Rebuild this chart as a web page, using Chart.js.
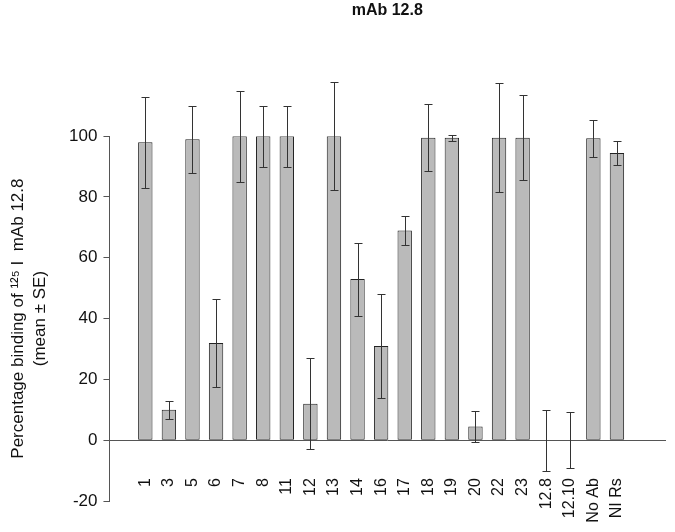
<!DOCTYPE html>
<html>
<head>
<meta charset="utf-8">
<script src="https://cdn.jsdelivr.net/npm/chart.js@4.4.1/dist/chart.umd.min.js"></script>
<style>
  html, body { margin: 0; padding: 0; background: #fff; }
  #wrap { width: 675px; height: 532px; }
</style>
</head>
<body>
<div id="wrap"><canvas id="myChart" width="675" height="532"></canvas></div>
<script>
  const categories = ["1", "3", "5", "6", "7", "8", "11", "12", "13", "14", "16",
    "17", "18", "19", "20", "22", "23", "12.8", "12.10", "No Ab", "NI Rs"];
  const means = [98, 10, 99, 32, 100, 100, 100, 12, 100, 53, 31,
    69, 99.5, 99.5, 4.5, 99.5, 99.5, 0, 0, 99.3, 94.5];
  const errors = [15, 3, 11, 14.5, 15, 10, 10, 15, 17.8, 12, 17,
    4.9, 11, 1, 5, 18, 14, 10, 9.2, 6, 4];
  const yTicks = [-20, 0, 20, 40, 60, 80, 100];

  const fontFamily = "'Liberation Sans', Arial, sans-serif";

  // draws the ± SE whiskers from the means/errors arrays
  const errorBars = {
    id: "errorBars",
    afterDatasetsDraw(chart) {
      const ctx = chart.ctx;
      const xs = chart.scales.x;
      const ys = chart.scales.y;
      ctx.save();
      ctx.strokeStyle = "#333";
      ctx.lineWidth = 1;
      means.forEach((m, i) => {
        const x = Math.round(xs.getPixelForValue(i)) + 0.5;
        const top = Math.round(ys.getPixelForValue(m + errors[i])) + 0.5;
        const bottom = Math.round(ys.getPixelForValue(m - errors[i])) + 0.5;
        ctx.beginPath();
        ctx.moveTo(x, top);
        ctx.lineTo(x, bottom);
        ctx.moveTo(x - 4, top);
        ctx.lineTo(x + 4, top);
        ctx.moveTo(x - 4, bottom);
        ctx.lineTo(x + 4, bottom);
        ctx.stroke();
      });
      ctx.restore();
    }
  };

  const ctx = document.getElementById("myChart").getContext("2d");

  new Chart(ctx, {
    type: "bar",
    data: {
      datasets: [
        {
          data: categories.map((c, i) => ({ x: i, y: means[i] })),
          backgroundColor: "#bababa",
          borderColor: "#222",
          borderWidth: 1,
          borderSkipped: false,
          categoryPercentage: 1,
          barPercentage: 0.61
        }
      ]
    },
    options: {
      responsive: false,
      animation: false,
      layout: {
        padding: { left: 7.6, right: 5, top: 0, bottom: 31 }
      },
      plugins: {
        legend: { display: false },
        tooltip: { enabled: false },
        title: {
          display: true,
          text: "mAb 12.8",
          fullSize: false,
          color: "#111",
          font: { family: fontFamily, size: 16, weight: "bold" },
          padding: { top: 1, bottom: 116 }
        }
      },
      scales: {
        x: {
          type: "linear",
          offset: false,
          position: { y: 0 },
          min: -1.52,
          max: 22.04,
          afterBuildTicks: (scale) => {
            scale.ticks = categories.map((c, i) => ({ value: i }));
          },
          grid: { display: true, drawOnChartArea: false, drawTicks: false },
          border: { color: "#555", width: 1 },
          ticks: {
            autoSkip: false,
            minRotation: 90,
            maxRotation: 90,
            padding: 38,
            color: "#111",
            font: { family: fontFamily, size: 16 },
            callback: (value) => categories[value]
          }
        },
        y: {
          min: -20,
          max: 100,
          afterBuildTicks: (scale) => {
            scale.ticks = yTicks.map((v) => ({ value: v }));
          },
          grid: { display: true, drawOnChartArea: false, drawTicks: true, tickLength: 6, color: "#555" },
          border: { color: "#555", width: 1 },
          ticks: {
            padding: 6,
            color: "#111",
            font: { family: fontFamily, size: 17 }
          },
          title: {
            display: true,
            text: ["Percentage binding of \u00B9\u00B2\u2075 I  mAb 12.8", "(mean \u00B1 SE)"],
            color: "#111",
            font: { family: fontFamily, size: 17, lineHeight: 1.3 },
            padding: { top: 0, bottom: 11.3 }
          }
        }
      }
    },
    plugins: [errorBars]
  });
</script>
</body>
</html>
